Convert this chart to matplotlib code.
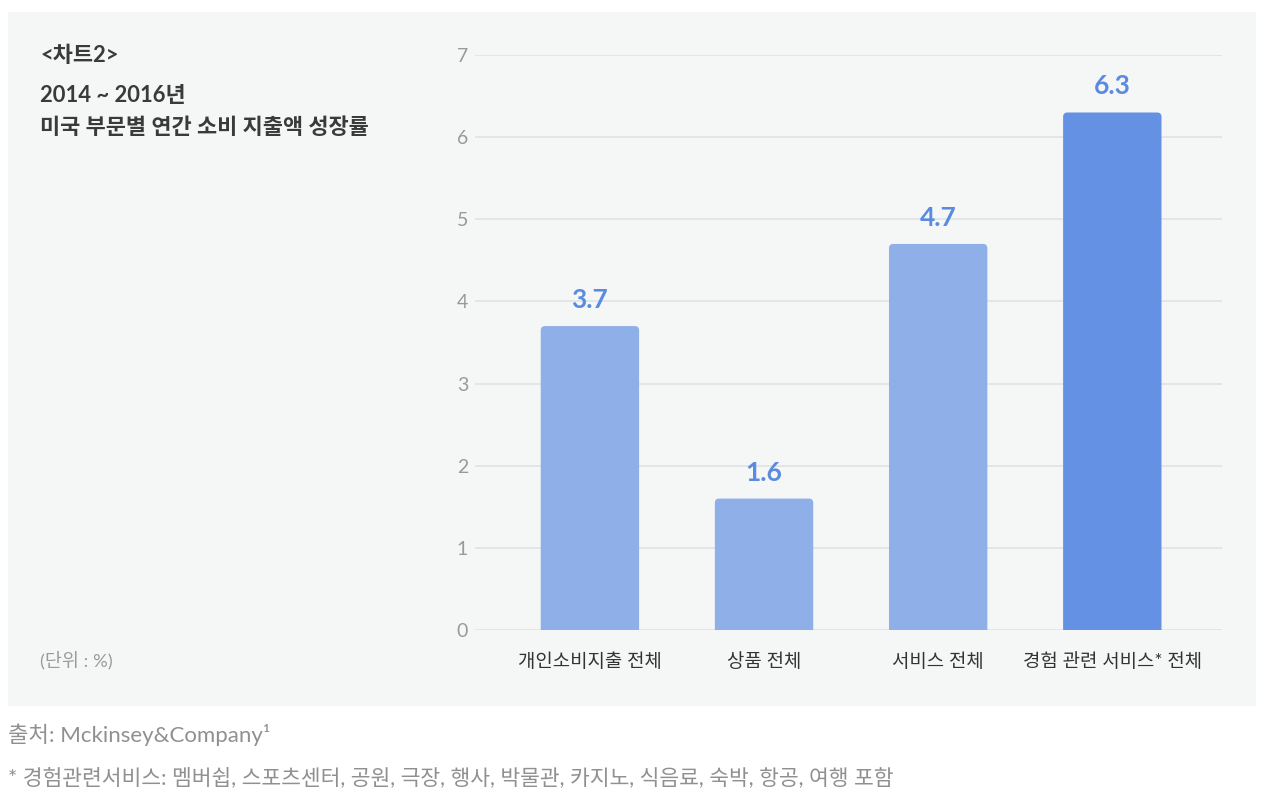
import matplotlib.pyplot as plt
from matplotlib.patches import FancyBboxPatch, Rectangle

categories = ['개인소비지출 전체', '상품 전체', '서비스 전체', '경험 관련 서비스* 전체']
values = [3.7, 1.6, 4.7, 6.3]
bar_colors = ['#8fafe8', '#8fafe8', '#8fafe8', '#6491e3']
yticks = [0, 1, 2, 3, 4, 5, 6, 7]

plt.rcParams['font.family'] = ['Lato', 'Noto Sans CJK KR', 'DejaVu Sans']

fig = plt.figure(figsize=(12.64, 7.96), dpi=100)
fig.patch.set_facecolor('white')

# light gray panel behind the chart
fig.patches.append(Rectangle((8 / 1264, 1 - 706 / 796), 1248 / 1264, 694 / 796,
                             transform=fig.transFigure, facecolor='#f5f7f7',
                             edgecolor='none', zorder=-5))

ax = fig.add_axes([475 / 1264, 1 - 630 / 796, 747 / 1264, 575 / 796])
ax.set_facecolor('none')
ax.set_zorder(2)

x = list(range(len(categories)))
width = 0.565
for xi, v, c in zip(x, values, bar_colors):
    bar = FancyBboxPatch((xi - width / 2, -0.2), width, v + 0.2,
                         boxstyle='round,pad=0,rounding_size=0.025',
                         mutation_aspect=2.1, facecolor=c, edgecolor='none', zorder=3)
    ax.add_patch(bar)
    ax.annotate(f'{v}', (xi, v), xytext=(0, 13), textcoords='offset points',
                ha='center', va='baseline', fontsize=19, fontweight='bold',
                color='#5b8be0', zorder=4)

ax.set_xlim(-0.66, len(categories) - 1 + 0.63)
ax.set_ylim(0, 7)
ax.set_yticks(yticks)
ax.set_xticks(x)
ax.set_xticklabels(categories, fontsize=13.6, color='#333333')
ax.tick_params(axis='y', length=0, pad=5, labelsize=14, labelcolor='#999999')
ax.tick_params(axis='x', length=0, pad=16)
ax.grid(axis='y', color='#dde2e6', linewidth=1.1, zorder=1)
ax.set_axisbelow(True)
for s in ax.spines.values():
    s.set_visible(False)

fig.text(40 / 1264, 1 - 55 / 796, '<차트2>', fontsize=15.8, fontweight='bold',
         color='#3a3a3a', va='center')
fig.text(40 / 1264, 1 - 96 / 796, '2014 ~ 2016년', fontsize=15.8, fontweight='bold',
         color='#3a3a3a', va='center')
fig.text(40 / 1264, 1 - 128 / 796, '미국 부문별 연간 소비 지출액 성장률', fontsize=15.8,
         fontweight='bold', color='#3a3a3a', va='center')
fig.text(40 / 1264, 1 - 660 / 796, '(단위 : %)', fontsize=13.3, color='#9a9a9a', va='center')

fig.text(8 / 1264, 1 - 735 / 796, '출처: Mckinsey&Company¹', fontsize=16,
         color='#909090', va='center')
fig.text(8 / 1264, 1 - 778 / 796,
         '* 경험관련서비스: 멤버쉽, 스포츠센터, 공원, 극장, 행사, 박물관, 카지노, 식음료, 숙박, 항공, 여행 포함',
         fontsize=15.5, color='#909090', va='center')

fig.savefig('out.png', dpi=100)
